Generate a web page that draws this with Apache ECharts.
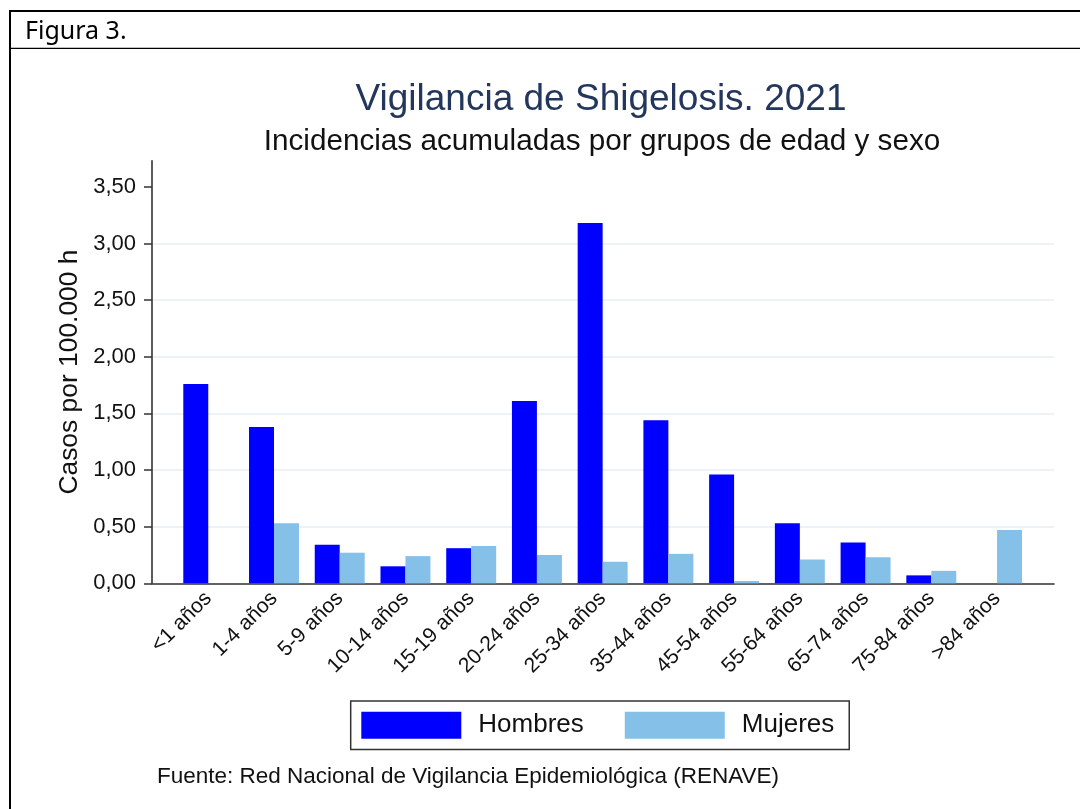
<!DOCTYPE html>
<html>
<head>
<meta charset="utf-8">
<script src="https://cdn.jsdelivr.net/npm/echarts@6/dist/echarts.min.js"></script>
<style>
  html, body { margin: 0; padding: 0; background: #fff; }
  #chart { width: 1080px; height: 809px; }
</style>
</head>
<body>
<div id="chart"></div>
<script>
// datos
var categories = ['<1 años', '1-4 años', '5-9 años', '10-14 años', '15-19 años', '20-24 años',
  '25-34 años', '35-44 años', '45-54 años', '55-64 años', '65-74 años', '75-84 años', '>84 años'];
var hombres = [1.76, 1.38, 0.34, 0.15, 0.31, 1.61, 3.18, 1.44, 0.96, 0.53, 0.36, 0.07, 0];
var mujeres = [0, 0.53, 0.27, 0.24, 0.33, 0.25, 0.19, 0.26, 0.02, 0.21, 0.23, 0.11, 0.47];
var yTicks = [0, 0.5, 1, 1.5, 2, 2.5, 3, 3.5];

var font = 'Liberation Sans, Arial, sans-serif';
var yMax = 3.73;
var plotTop = 160.8, plotH = 422.5;

// lineas de rejilla: ninguna en 0 (eje) ni en 3,50 / max
var gridColors = [];
for (var i = 0; i < 9; i++) {
  gridColors.push(i >= 7 ? 'rgba(0,0,0,0)' : '#e6eef3');
}

var myChart = echarts.init(document.getElementById('chart'));
myChart.setOption({
  backgroundColor: '#fff',
  animation: false,
  title: [{
    text: 'Vigilancia de Shigelosis. 2021',
    left: 596, top: 76, textAlign: 'center',
    textStyle: { fontFamily: font, fontSize: 37, fontWeight: 'normal', color: '#23365c' }
  }, {
    text: 'Incidencias acumuladas por grupos de edad y sexo',
    left: 597, top: 122, textAlign: 'center',
    textStyle: { fontFamily: font, fontSize: 29.7, fontWeight: 'normal', color: '#111' }
  }, {
    text: 'Fuente: Red Nacional de Vigilancia Epidemiológica (RENAVE)',
    left: 152, top: 760,
    textStyle: { fontFamily: font, fontSize: 22.5, fontWeight: 'normal', color: '#111' }
  }, {
    text: 'Figura 3.',
    left: 20, top: 14,
    textStyle: { fontFamily: 'Noto Sans, sans-serif', fontSize: 25, fontWeight: 'normal', color: '#000' }
  }],
  legend: {
    data: ['Hombres', 'Mujeres'],
    left: 350.7, top: 701,
    orient: 'horizontal',
    padding: [10.7, 15, 10.7, 10.6],
    itemGap: 41,
    itemWidth: 100,
    itemHeight: 27,
    icon: 'rect',
    borderColor: '#333',
    borderWidth: 1.5,
    textStyle: { fontFamily: font, fontSize: 26, color: '#111', padding: [0, 0, 0, 12] }
  },
  graphic: [
    { type: 'line', shape: { x1: 9, y1: 11, x2: 1080, y2: 11 }, style: { stroke: '#000', lineWidth: 2 } },
    { type: 'line', shape: { x1: 10, y1: 11, x2: 10, y2: 809 }, style: { stroke: '#000', lineWidth: 2 } },
    { type: 'line', shape: { x1: 9, y1: 48.3, x2: 1080, y2: 48.3 }, style: { stroke: '#000', lineWidth: 1.3 } }
  ],
  grid: [
    { left: 152, right: 26, top: plotTop, height: plotH },
    { left: 175.4, right: 50.1, top: plotTop, height: plotH }
  ],
  xAxis: [{
    gridIndex: 0, type: 'value', min: 0, max: 1,
    axisLine: { show: true, lineStyle: { color: '#333', width: 1.6 } },
    axisTick: { show: false }, axisLabel: { show: false }, splitLine: { show: false }
  }, {
    gridIndex: 1, type: 'category', data: categories,
    axisLine: { show: false }, axisTick: { show: false },
    axisLabel: {
      rotate: 45, margin: 12, interval: 0,
      fontFamily: font, fontSize: 21, color: '#111'
    }
  }],
  yAxis: [{
    gridIndex: 0, type: 'value', min: 0, max: yMax, interval: 0.5,
    name: 'Casos por 100.000 h',
    nameLocation: 'middle', nameGap: 68, nameRotate: 90,
    nameTextStyle: { fontFamily: font, fontSize: 26.4, color: '#111' },
    axisLine: { show: true, lineStyle: { color: '#333', width: 1.6 } },
    axisTick: { show: true, length: 8, customValues: yTicks, lineStyle: { color: '#333', width: 1.5 } },
    axisLabel: {
      customValues: yTicks, margin: 16,
      fontFamily: font, fontSize: 22, color: '#111',
      formatter: function (v) { return v.toFixed(2).replace('.', ','); }
    },
    splitLine: { show: true, lineStyle: { color: gridColors, width: 1.6 } }
  }, {
    gridIndex: 1, type: 'value', min: 0, max: yMax, show: false,
    splitLine: { show: false }
  }],
  series: [{
    name: 'Hombres', type: 'bar', xAxisIndex: 1, yAxisIndex: 1,
    data: hombres, barWidth: '38%', barGap: '0%',
    itemStyle: { color: '#0000ff' }
  }, {
    name: 'Mujeres', type: 'bar', xAxisIndex: 1, yAxisIndex: 1,
    data: mujeres, barWidth: '38%', barGap: '0%',
    itemStyle: { color: '#85c0e9' }
  }]
});
window.onresize = myChart.resize;
</script>
</body>
</html>
